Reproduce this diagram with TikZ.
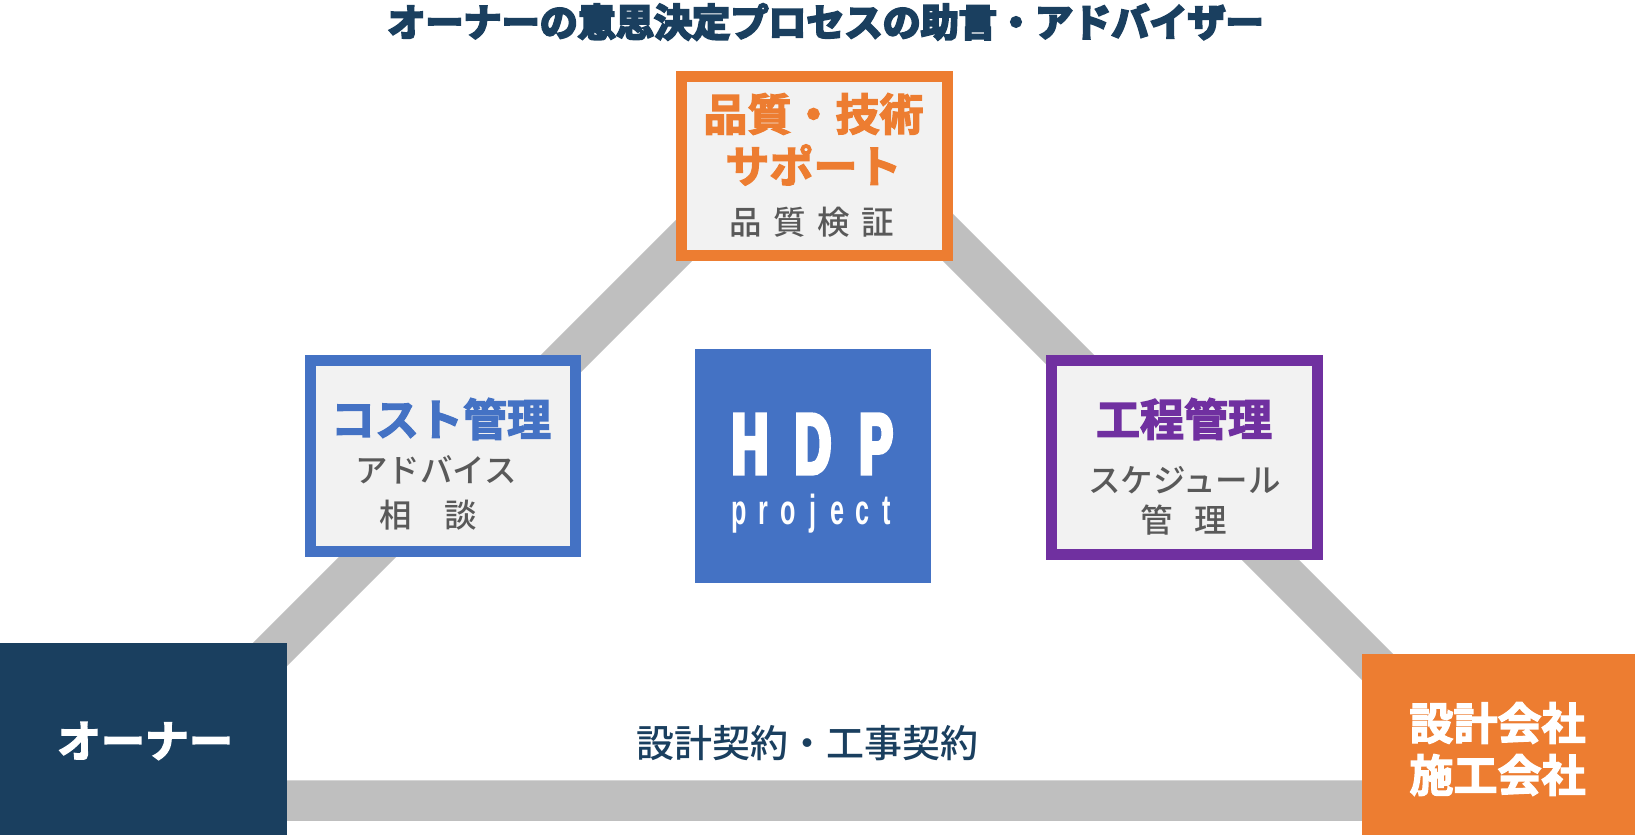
\documentclass[tikz,border=0pt]{standalone}
\usepackage{fontspec}
\setmainfont{Noto Sans CJK JP Medium}
\newfontfamily\titlefont[FakeBold=6]{Noto Sans CJK JP Bold}
\newfontfamily\headfont[FakeBold=3]{Noto Sans CJK JP Bold}
\newfontfamily\logobig[FakeStretch=0.58,FakeBold=5]{Liberation Sans Bold}
\newfontfamily\logosmall[FakeStretch=0.6]{Liberation Sans Bold}
\definecolor{navy}{HTML}{1A3F5F}
\definecolor{hdporange}{HTML}{ED7D31}
\definecolor{hdpblue}{HTML}{4472C4}
\definecolor{hdppurple}{HTML}{7030A0}
\definecolor{linkgray}{HTML}{BFBFBF}
\definecolor{panel}{HTML}{F2F2F2}
\definecolor{subgray}{HTML}{595959}
\newcommand{\lt}[1]{\makebox[24.6pt]{#1}}
\newcommand{\Lt}[1]{\makebox[63pt]{#1}}
\tikzset{
  plain/.style={inner sep=0pt,outer sep=0pt},
  framebox/.style={plain,rectangle,draw=#1,line width=11pt,fill=panel},
  solidbox/.style={plain,rectangle,fill=#1},
  head/.style={plain,font=\fontsize{44}{44}\headfont,text=#1,anchor=center},
  sub/.style={plain,font=\fontsize{32.5}{32.5}\selectfont,text=subgray,anchor=center},
  whitehead/.style={plain,font=\fontsize{44}{44}\headfont,text=white,anchor=center},
  link/.style={draw=linkgray,line width=40.5pt,line join=miter,line cap=butt}
}
\begin{document}
\begin{tikzpicture}[x=1pt,y=-1pt]
\useasboundingbox[fill=white] (0,0) rectangle (1635,835);
\coordinate (ownerend) at (124,800.5);
\coordinate (topend) at (817.5,107);
\coordinate (vendorend) at (1511,800.5);
\draw[link] (ownerend) -- (topend) -- (vendorend) -- cycle;
\node[plain,font=\fontsize{38.1}{38.1}\titlefont,text=navy] (title) at (825.5,22) {オーナーの意思決定プロセスの助言・アドバイザー};
\node[framebox=hdporange,minimum width=266pt,minimum height=179pt] (quality) at (814.5,166) {};
\node[head=hdporange] (qa) at (813.5,114) {品質・技術};
\node[head=hdporange] (qb) at (813.5,165) {サポート};
\node[sub] (qc) at (812,222) {\spaceskip=11.5pt\relax 品 質 検 証};
\node[framebox=hdpblue,minimum width=265pt,minimum height=191pt] (cost) at (443,456) {};
\node[head=hdpblue] (ca) at (441,419) {コスト管理};
\node[sub] (cb) at (436,470) {アドバイス};
\node[sub] (cc) at (428.5,515) {相　談};
\node[framebox=hdppurple,minimum width=266pt,minimum height=194pt] (schedule) at (1184.5,457.5) {};
\node[head=hdppurple] (sa) at (1184,419) {工程管理};
\node[sub] (sb) at (1184.5,480) {スケジュール};
\node[sub] (sc) at (1184,520) {\spaceskip=22pt\relax 管 理};
\node[solidbox=hdpblue,minimum width=236pt,minimum height=234pt] (logo) at (813,466) {};
\node[plain,text=white,font=\fontsize{86}{86}\logobig] (hdp) at (813,444) {\Lt{H}\Lt{D}\Lt{P}};
\node[plain,text=white,font=\fontsize{42}{42}\logosmall] (project) at (813,514) {\lt{p}\lt{r}\lt{o}\lt{j}\lt{e}\lt{c}\lt{t}};
\node[solidbox=navy,minimum width=287pt,minimum height=192pt] (owner) at (143.5,739) {};
\node[whitehead] (ownerlabel) at (145,741) {オーナー};
\node[solidbox=hdporange,minimum width=273pt,minimum height=181pt] (vendor) at (1498.5,744.5) {};
\node[whitehead] (va) at (1497.5,723) {設計会社};
\node[whitehead] (vb) at (1497.5,775) {施工会社};
\node[plain,font=\fontsize{38}{38}\selectfont,text=navy] (contract) at (807,743) {設計契約・工事契約};
\end{tikzpicture}
\end{document}
